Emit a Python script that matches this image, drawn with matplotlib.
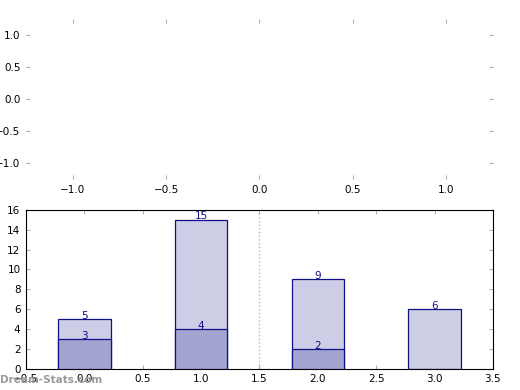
import matplotlib
matplotlib.use("Agg")
import matplotlib.pyplot as plt

# данные
categories = [0, 1, 2, 3]
totals = [5, 15, 9, 6]
sub_x = [0, 1, 2]
subsets = [3, 4, 2]

light = "#cdcde5"
dark = "#a3a3cf"
edge = "#10108a"
tickc = "#b0b0b0"

fig = plt.figure(figsize=(5.2, 3.9), dpi=100)
plt.rcParams["font.size"] = 7.5

# верхний пустой график
ax1 = fig.add_axes([0.05, 0.541, 0.898, 0.41])
ax1.set_xlim(-1.25, 1.25)
ax1.set_ylim(-1.25, 1.25)
ax1.set_xticks([-1.0, -0.5, 0.0, 0.5, 1.0])
ax1.set_yticks([-1.0, -0.5, 0.0, 0.5, 1.0])
for s in ax1.spines.values():
    s.set_visible(False)
ax1.tick_params(direction="in", length=3, color=tickc, top=True, right=True,
                labelsize=7.5, pad=4)

# нижний график со столбцами
ax2 = fig.add_axes([0.05, 0.054, 0.898, 0.408])
ax2.bar(categories, totals, width=0.45, color=light, edgecolor=edge, linewidth=0.9, zorder=2)
ax2.bar(sub_x, subsets, width=0.45, color=dark, edgecolor=edge, linewidth=0.9, zorder=3)
for x, v in zip(categories, totals):
    ax2.text(x, v + 0.35, str(v), ha="center", va="center", color=edge, fontsize=7.5, zorder=4)
for x, v in zip(sub_x, subsets):
    ax2.text(x, v + 0.35, str(v), ha="center", va="center", color=edge, fontsize=7.5, zorder=4)
ax2.axvline(1.5, color="#b8b8b8", linestyle=":", linewidth=1, zorder=1)
ax2.set_xlim(-0.5, 3.5)
ax2.set_ylim(0, 16)
ax2.set_xticks([-0.5, 0.0, 0.5, 1.0, 1.5, 2.0, 2.5, 3.0, 3.5])
ax2.set_yticks(range(0, 17, 2))
ax2.tick_params(direction="in", length=3, color=tickc, top=True, right=True,
                labelsize=7.5, pad=4)

fig.text(0.0, 0.012, "Dream-Stats.com", color="#999999", fontsize=7.5,
         fontweight="bold", ha="left", va="bottom")

fig.savefig("out.png", dpi=100)
